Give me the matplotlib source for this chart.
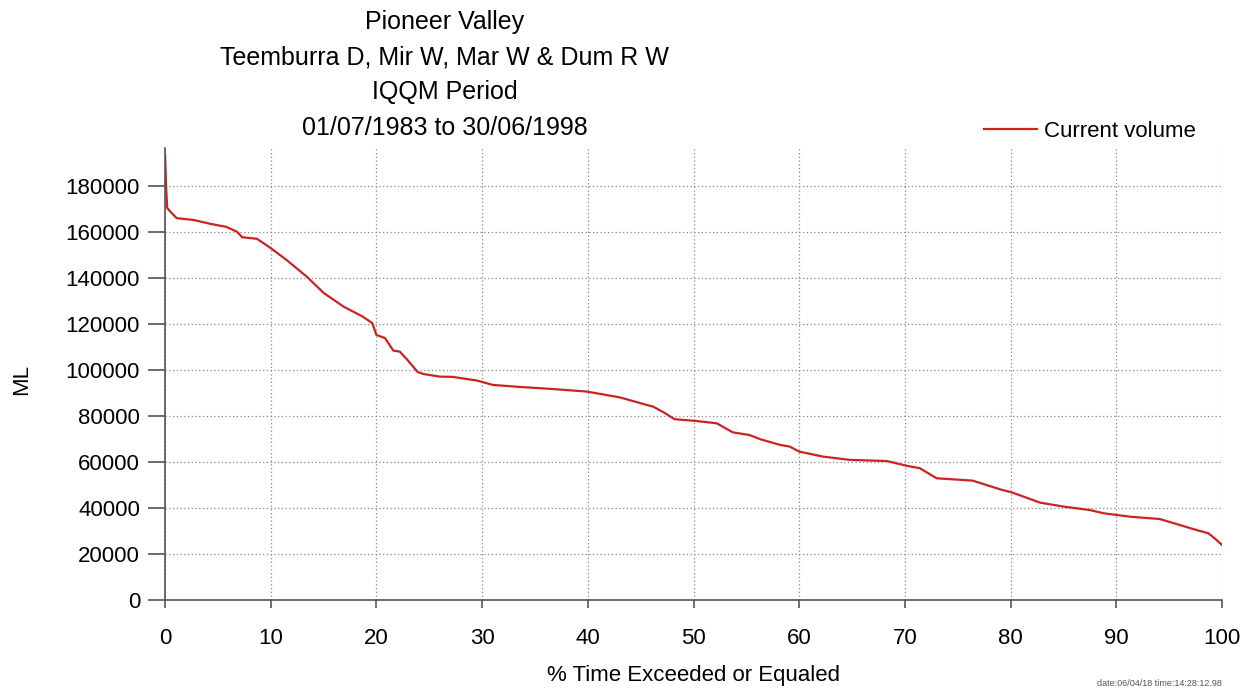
import matplotlib
matplotlib.use('Agg')
import matplotlib.pyplot as plt

# exceedance curve
pct_time = [0.0, 0.1, 0.2, 0.5, 1.1, 2.7, 4.3, 5.8, 6.8, 7.3, 8.7, 9.9, 11.5,
            13.4, 15.0, 16.9, 18.7, 19.6, 20.0, 20.8, 21.6, 22.2, 23.0, 23.9,
            24.5, 26.0, 27.2, 29.5, 31.0, 33.6, 36.7, 39.9, 43.0, 46.2, 47.2,
            48.2, 50.3, 52.2, 53.7, 55.3, 56.3, 58.2, 59.1, 60.0, 62.3, 64.8,
            68.3, 70.2, 71.4, 73.0, 76.4, 79.0, 80.1, 82.8, 85.0, 87.5, 88.8,
            91.3, 94.1, 96.0, 97.6, 98.7, 99.3, 100.0]
volume = [193500, 180000, 170500, 168800, 166000, 165200, 163500, 162200,
          160100, 157700, 157000, 153300, 147800, 140600, 133500, 127500,
          123200, 120400, 115200, 113900, 108400, 108000, 104000, 99100,
          98200, 97100, 97000, 95400, 93500, 92600, 91700, 90600, 88100,
          84000, 81500, 78600, 77800, 76800, 72900, 71700, 69900, 67400,
          66700, 64500, 62300, 60900, 60400, 58300, 57300, 52900, 51900,
          48100, 46800, 42300, 40600, 39100, 37700, 36200, 35200, 32600,
          30400, 29000, 26800, 23900]

x_ticks = [0, 10, 20, 30, 40, 50, 60, 70, 80, 90, 100]
y_ticks = [0, 20000, 40000, 60000, 80000, 100000, 120000, 140000, 160000, 180000]

title_lines = ['Pioneer Valley',
               'Teemburra D, Mir W, Mar W & Dum R W',
               'IQQM Period',
               '01/07/1983 to 30/06/1998']

plt.rcParams['font.family'] = ['Liberation Sans', 'DejaVu Sans']

fig = plt.figure(figsize=(12.56, 6.95), dpi=100)
ax = fig.add_axes([0.1314, 0.1367, 0.8416, 0.6504])

ax.plot(pct_time, volume, color='#cc2222', linewidth=1.6, label='Current volume')

ax.set_xlim(0, 100)
ax.set_ylim(0, 196500)
ax.set_xticks(x_ticks)
ax.set_yticks(y_ticks)
ax.tick_params(axis='y', direction='out', length=12, width=1.2, color='#555555',
               labelsize=16, pad=6)
ax.tick_params(axis='x', direction='out', length=6, width=1.2, color='#555555',
               labelsize=16, pad=14)

for s in ['top', 'right']:
    ax.spines[s].set_visible(False)
for s in ['left', 'bottom']:
    ax.spines[s].set_color('#555555')
    ax.spines[s].set_linewidth(1.2)

ax.grid(True, linestyle=(0, (1, 2)), color='#888888', linewidth=0.9)
ax.set_axisbelow(True)

ax.set_ylabel('ML', fontsize=16)
ax.yaxis.set_label_coords(-0.126, 0.487)
ax.set_xlabel('% Time Exceeded or Equaled', fontsize=16, labelpad=12)

for i, line in enumerate(title_lines):
    fig.text(0.354, 0.968 - i * 0.0505, line, ha='center', va='center', fontsize=18)

ax.legend(loc='center right', bbox_to_anchor=(0.968, 0.811),
          bbox_transform=fig.transFigure, frameon=False, fontsize=16,
          handlelength=2.4, handletextpad=0.3)

fig.text(0.973, 0.01, 'date:06/04/18 time:14:28:12.98', ha='right', va='bottom',
         fontsize=6.5, color='#555555')

fig.savefig('out.png', dpi=100)
